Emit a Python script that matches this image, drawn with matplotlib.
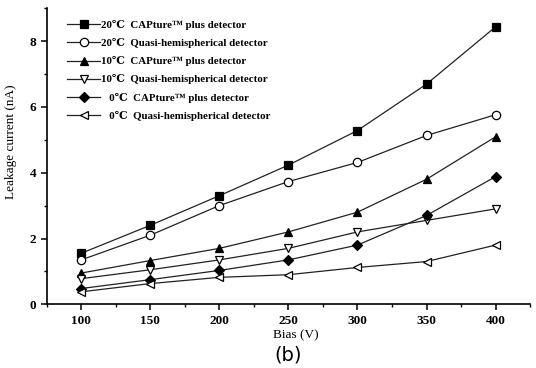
import matplotlib
matplotlib.use("Agg")
import matplotlib.pyplot as plt
from matplotlib.ticker import MultipleLocator

bias = [100, 150, 200, 250, 300, 350, 400]
cap20 = [1.55, 2.4, 3.3, 4.23, 5.28, 6.69, 8.43]
quasi20 = [1.35, 2.1, 3.0, 3.73, 4.31, 5.13, 5.76]
cap10 = [0.95, 1.33, 1.7, 2.2, 2.8, 3.8, 5.09]
quasi10 = [0.78, 1.05, 1.35, 1.7, 2.2, 2.55, 2.9]
cap0 = [0.48, 0.75, 1.03, 1.35, 1.8, 2.7, 3.88]
quasi0 = [0.38, 0.63, 0.82, 0.9, 1.12, 1.3, 1.8]

labels = [
    "20\u2103  CAPture\u2122 plus detector",
    "20\u2103  Quasi-hemispherical detector",
    "10\u2103  CAPture\u2122 plus detector",
    "10\u2103  Quasi-hemispherical detector",
    "   0\u2103  CAPture\u2122 plus detector",
    "   0\u2103  Quasi-hemispherical detector",
]

plt.rcParams['font.family'] = ['Liberation Serif', 'DejaVu Serif']

fig = plt.figure(figsize=(5.36, 3.68), dpi=100)
ax = fig.add_axes([0.087, 0.173, 0.902, 0.805])

series = [cap20, quasi20, cap10, quasi10, cap0, quasi0]
styles = [
    dict(marker='s', mfc='black', ms=5.5),
    dict(marker='o', mfc='white', ms=6),
    dict(marker='^', mfc='black', ms=6),
    dict(marker='v', mfc='white', ms=6),
    dict(marker='D', mfc='black', ms=5),
    dict(marker='<', mfc='white', ms=6),
]
for s, st, lab in zip(series, styles, labels):
    kw = dict(color='#222222', lw=0.9, mec='black', mew=0.9)
    kw.update(st)
    ax.plot(bias, s, label=lab, **kw)

ax.set_xlim(75, 425)
ax.set_ylim(0, 9)
ax.xaxis.set_major_locator(MultipleLocator(50))
ax.xaxis.set_minor_locator(MultipleLocator(25))
ax.yaxis.set_major_locator(MultipleLocator(2))
ax.yaxis.set_minor_locator(MultipleLocator(1))
for sp in ['top', 'right']:
    ax.spines[sp].set_visible(False)
for sp in ['left', 'bottom']:
    ax.spines[sp].set_linewidth(1.2)
ax.tick_params(which='major', direction='out', length=4, width=1.1, labelsize=9.5)
ax.tick_params(which='minor', direction='out', length=2.5, width=1.0)
for t in ax.get_xticklabels() + ax.get_yticklabels():
    t.set_fontweight('bold')

ax.set_xlabel("Bias (V)", fontsize=9.5)
ax.set_ylabel("Leakage current (nA)", fontsize=9.5)
ax.xaxis.set_label_coords(0.515, -0.085)
ax.yaxis.set_label_coords(-0.062, 0.55)

leg = ax.legend(loc='upper left', bbox_to_anchor=(0.027, 0.985), frameon=False,
                prop={'weight': 'bold', 'size': 7.8}, handlelength=3.0,
                handletextpad=0.1, labelspacing=0.75, borderaxespad=0.3)

fig.text(0.537, 0.035, "(b)", fontsize=14, family='DejaVu Sans', ha='center', va='center')

fig.savefig("out.png", dpi=100)
